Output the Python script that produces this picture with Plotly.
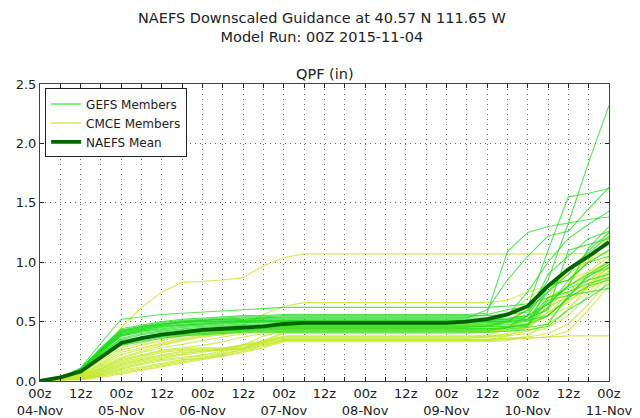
import plotly.graph_objects as go

# forecast hour (6-hourly), 0 = 00z 04-Nov
hours = [0, 6, 12, 18, 24, 30, 36, 42, 48, 54, 60, 66, 72, 78, 84, 90, 96, 102, 108, 114,
         120, 126, 132, 138, 144, 150, 156, 162, 168]

tick_hours = hours
tick_labels = ["00z<br>04-Nov", "", "12z", "", "00z<br>05-Nov", "", "12z", "", "00z<br>06-Nov", "",
               "12z", "", "00z<br>07-Nov", "", "12z", "", "00z<br>08-Nov", "", "12z", "",
               "00z<br>09-Nov", "", "12z", "", "00z<br>10-Nov", "", "12z", "", "00z<br>11-Nov"]

gefs_members = [
    [0, 0.03, 0.11, 0.32, 0.52, 0.54, 0.56, 0.57, 0.58, 0.59, 0.60, 0.61, 0.62, 0.62, 0.62, 0.62, 0.62, 0.62, 0.62, 0.62, 0.62, 0.62, 0.62, 0.63, 0.65, 0.70, 0.75, 0.82, 0.87],
    [0, 0.03, 0.10, 0.28, 0.44, 0.47, 0.50, 0.52, 0.53, 0.54, 0.55, 0.55, 0.56, 0.56, 0.56, 0.56, 0.56, 0.56, 0.56, 0.56, 0.56, 0.56, 0.57, 1.09, 1.25, 1.30, 1.33, 1.36, 1.38],
    [0, 0.03, 0.10, 0.27, 0.43, 0.46, 0.48, 0.50, 0.51, 0.52, 0.52, 0.53, 0.53, 0.53, 0.53, 0.53, 0.53, 0.53, 0.53, 0.53, 0.53, 0.53, 0.60, 0.85, 1.05, 1.22, 1.26, 1.45, 1.63],
    [0, 0.03, 0.10, 0.27, 0.42, 0.46, 0.49, 0.51, 0.52, 0.53, 0.54, 0.54, 0.55, 0.55, 0.55, 0.55, 0.55, 0.55, 0.55, 0.55, 0.55, 0.55, 0.55, 0.56, 0.58, 0.85, 1.33, 1.84, 2.32],
    [0, 0.03, 0.10, 0.27, 0.42, 0.45, 0.48, 0.50, 0.51, 0.52, 0.53, 0.53, 0.54, 0.54, 0.54, 0.54, 0.54, 0.54, 0.54, 0.54, 0.54, 0.54, 0.56, 0.60, 0.62, 1.10, 1.55, 1.58, 1.62],
    [0, 0.03, 0.10, 0.26, 0.41, 0.45, 0.48, 0.50, 0.51, 0.52, 0.52, 0.53, 0.53, 0.53, 0.53, 0.53, 0.53, 0.53, 0.53, 0.53, 0.53, 0.53, 0.53, 0.55, 0.75, 1.00, 1.20, 1.32, 1.43],
    [0, 0.03, 0.10, 0.26, 0.41, 0.44, 0.47, 0.49, 0.50, 0.51, 0.51, 0.52, 0.52, 0.52, 0.52, 0.52, 0.52, 0.52, 0.52, 0.52, 0.52, 0.52, 0.52, 0.53, 0.55, 0.90, 1.05, 1.20, 1.26],
    [0, 0.03, 0.10, 0.26, 0.40, 0.44, 0.47, 0.49, 0.50, 0.50, 0.51, 0.51, 0.51, 0.51, 0.51, 0.51, 0.51, 0.51, 0.51, 0.51, 0.51, 0.51, 0.51, 0.52, 0.53, 0.60, 1.10, 1.15, 1.20],
    [0, 0.03, 0.09, 0.25, 0.40, 0.43, 0.46, 0.48, 0.49, 0.50, 0.50, 0.51, 0.51, 0.51, 0.51, 0.51, 0.51, 0.51, 0.51, 0.51, 0.51, 0.51, 0.51, 0.52, 0.55, 0.80, 0.85, 1.00, 1.10],
    [0, 0.03, 0.09, 0.25, 0.39, 0.43, 0.46, 0.47, 0.48, 0.49, 0.50, 0.50, 0.50, 0.50, 0.50, 0.50, 0.50, 0.50, 0.50, 0.50, 0.50, 0.50, 0.50, 0.51, 0.52, 0.75, 0.95, 1.05, 1.15],
    [0, 0.03, 0.09, 0.25, 0.39, 0.42, 0.45, 0.47, 0.48, 0.49, 0.49, 0.50, 0.50, 0.50, 0.50, 0.50, 0.50, 0.50, 0.50, 0.50, 0.50, 0.50, 0.50, 0.50, 0.51, 0.55, 0.70, 0.90, 1.00],
    [0, 0.03, 0.09, 0.24, 0.38, 0.42, 0.44, 0.46, 0.47, 0.48, 0.49, 0.49, 0.49, 0.49, 0.49, 0.49, 0.49, 0.49, 0.49, 0.49, 0.49, 0.49, 0.49, 0.50, 0.52, 0.65, 0.80, 0.90, 0.95],
    [0, 0.03, 0.09, 0.24, 0.38, 0.41, 0.43, 0.45, 0.46, 0.47, 0.48, 0.48, 0.48, 0.48, 0.48, 0.48, 0.48, 0.48, 0.48, 0.48, 0.48, 0.48, 0.48, 0.49, 0.50, 0.70, 0.78, 0.85, 0.90],
    [0, 0.03, 0.09, 0.23, 0.36, 0.40, 0.42, 0.44, 0.45, 0.46, 0.47, 0.47, 0.47, 0.47, 0.47, 0.47, 0.47, 0.47, 0.47, 0.47, 0.47, 0.47, 0.47, 0.48, 0.48, 0.55, 0.70, 0.80, 0.85],
    [0, 0.03, 0.09, 0.23, 0.35, 0.39, 0.41, 0.43, 0.44, 0.45, 0.46, 0.46, 0.46, 0.46, 0.46, 0.46, 0.46, 0.46, 0.46, 0.46, 0.46, 0.46, 0.46, 0.46, 0.47, 0.68, 0.72, 0.75, 0.78],
    [0, 0.03, 0.09, 0.22, 0.34, 0.37, 0.40, 0.42, 0.43, 0.44, 0.45, 0.45, 0.45, 0.45, 0.45, 0.45, 0.45, 0.45, 0.45, 0.45, 0.45, 0.45, 0.46, 0.50, 0.60, 0.75, 0.90, 1.10, 1.25],
    [0, 0.03, 0.08, 0.21, 0.33, 0.36, 0.39, 0.41, 0.42, 0.43, 0.44, 0.44, 0.44, 0.44, 0.44, 0.44, 0.44, 0.44, 0.44, 0.44, 0.44, 0.44, 0.44, 0.45, 0.46, 0.80, 0.95, 1.08, 1.22],
    [0, 0.03, 0.08, 0.21, 0.33, 0.36, 0.39, 0.41, 0.42, 0.43, 0.43, 0.44, 0.44, 0.44, 0.44, 0.44, 0.44, 0.44, 0.44, 0.44, 0.44, 0.44, 0.44, 0.45, 0.48, 0.62, 0.85, 1.00, 1.05],
    [0, 0.03, 0.08, 0.20, 0.32, 0.35, 0.38, 0.40, 0.41, 0.42, 0.43, 0.43, 0.43, 0.43, 0.43, 0.43, 0.43, 0.43, 0.43, 0.43, 0.43, 0.43, 0.43, 0.44, 0.45, 0.48, 0.72, 0.88, 0.98],
    [0, 0.03, 0.08, 0.20, 0.31, 0.34, 0.37, 0.39, 0.40, 0.41, 0.42, 0.42, 0.42, 0.42, 0.42, 0.42, 0.42, 0.42, 0.42, 0.42, 0.42, 0.42, 0.42, 0.45, 0.55, 0.65, 0.80, 1.12, 1.30],
    [0, 0.03, 0.08, 0.19, 0.30, 0.33, 0.36, 0.38, 0.39, 0.40, 0.41, 0.41, 0.41, 0.41, 0.41, 0.41, 0.41, 0.41, 0.41, 0.41, 0.41, 0.41, 0.41, 0.42, 0.43, 0.46, 0.60, 0.70, 0.82],
]

cmce_members = [
    [0, 0.02, 0.08, 0.25, 0.45, 0.62, 0.75, 0.83, 0.84, 0.85, 0.87, 0.97, 1.04, 1.07, 1.07, 1.07, 1.07, 1.07, 1.07, 1.07, 1.07, 1.07, 1.07, 1.07, 1.07, 1.07, 1.07, 1.07, 1.07],
    [0, 0.02, 0.06, 0.18, 0.30, 0.35, 0.38, 0.42, 0.44, 0.45, 0.47, 0.56, 0.63, 0.66, 0.66, 0.66, 0.66, 0.66, 0.66, 0.66, 0.66, 0.66, 0.66, 0.68, 0.75, 0.80, 0.85, 0.92, 1.00],
    [0, 0.02, 0.06, 0.17, 0.28, 0.32, 0.36, 0.39, 0.41, 0.43, 0.45, 0.47, 0.48, 0.48, 0.48, 0.48, 0.48, 0.48, 0.48, 0.48, 0.48, 0.48, 0.49, 0.55, 0.70, 0.80, 0.85, 1.05, 1.25],
    [0, 0.02, 0.05, 0.15, 0.26, 0.30, 0.34, 0.38, 0.40, 0.42, 0.44, 0.46, 0.47, 0.47, 0.47, 0.47, 0.47, 0.47, 0.47, 0.47, 0.47, 0.47, 0.48, 0.50, 0.62, 0.78, 0.90, 1.00, 1.22],
    [0, 0.02, 0.05, 0.14, 0.24, 0.28, 0.32, 0.36, 0.39, 0.41, 0.43, 0.45, 0.46, 0.46, 0.46, 0.46, 0.46, 0.46, 0.46, 0.46, 0.46, 0.46, 0.47, 0.50, 0.55, 0.60, 0.82, 1.02, 1.20],
    [0, 0.02, 0.05, 0.13, 0.22, 0.27, 0.31, 0.35, 0.38, 0.40, 0.42, 0.44, 0.46, 0.46, 0.46, 0.46, 0.46, 0.46, 0.46, 0.46, 0.46, 0.46, 0.46, 0.47, 0.52, 0.70, 0.95, 1.00, 1.10],
    [0, 0.02, 0.04, 0.12, 0.20, 0.25, 0.30, 0.34, 0.37, 0.39, 0.41, 0.43, 0.45, 0.45, 0.45, 0.45, 0.45, 0.45, 0.45, 0.45, 0.45, 0.45, 0.45, 0.46, 0.48, 0.68, 0.80, 0.92, 1.05],
    [0, 0.02, 0.04, 0.11, 0.19, 0.24, 0.28, 0.31, 0.34, 0.37, 0.40, 0.42, 0.44, 0.44, 0.44, 0.44, 0.44, 0.44, 0.44, 0.44, 0.44, 0.44, 0.44, 0.45, 0.47, 0.55, 0.75, 0.90, 1.02],
    [0, 0.02, 0.04, 0.10, 0.18, 0.22, 0.26, 0.28, 0.30, 0.33, 0.37, 0.40, 0.43, 0.43, 0.43, 0.43, 0.43, 0.43, 0.43, 0.43, 0.43, 0.43, 0.44, 0.50, 0.60, 0.70, 0.80, 0.88, 1.00],
    [0, 0.02, 0.04, 0.10, 0.17, 0.21, 0.25, 0.27, 0.28, 0.28, 0.30, 0.38, 0.42, 0.42, 0.42, 0.42, 0.42, 0.42, 0.42, 0.42, 0.42, 0.42, 0.42, 0.43, 0.45, 0.62, 0.72, 0.85, 0.98],
    [0, 0.02, 0.03, 0.09, 0.16, 0.20, 0.24, 0.26, 0.27, 0.27, 0.28, 0.34, 0.41, 0.41, 0.41, 0.41, 0.41, 0.41, 0.41, 0.41, 0.41, 0.41, 0.41, 0.42, 0.44, 0.58, 0.66, 0.80, 0.96],
    [0, 0.01, 0.03, 0.08, 0.15, 0.19, 0.22, 0.25, 0.26, 0.26, 0.27, 0.33, 0.40, 0.40, 0.40, 0.40, 0.40, 0.40, 0.40, 0.40, 0.40, 0.40, 0.41, 0.45, 0.55, 0.65, 0.75, 0.85, 0.95],
    [0, 0.01, 0.03, 0.08, 0.14, 0.18, 0.21, 0.24, 0.25, 0.26, 0.28, 0.32, 0.38, 0.38, 0.38, 0.38, 0.38, 0.38, 0.38, 0.38, 0.38, 0.38, 0.38, 0.39, 0.42, 0.48, 0.60, 0.80, 0.93],
    [0, 0.01, 0.03, 0.07, 0.13, 0.17, 0.20, 0.23, 0.25, 0.27, 0.30, 0.33, 0.37, 0.37, 0.37, 0.37, 0.37, 0.37, 0.37, 0.37, 0.37, 0.37, 0.38, 0.45, 0.52, 0.62, 0.70, 0.80, 0.90],
    [0, 0.01, 0.02, 0.07, 0.12, 0.16, 0.19, 0.22, 0.24, 0.27, 0.31, 0.34, 0.37, 0.37, 0.37, 0.37, 0.37, 0.37, 0.37, 0.37, 0.37, 0.37, 0.37, 0.38, 0.40, 0.45, 0.55, 0.72, 0.88],
    [0, 0.01, 0.02, 0.06, 0.11, 0.15, 0.18, 0.20, 0.22, 0.25, 0.30, 0.33, 0.36, 0.36, 0.36, 0.36, 0.36, 0.36, 0.36, 0.36, 0.36, 0.36, 0.37, 0.40, 0.48, 0.58, 0.68, 0.78, 0.86],
    [0, 0.01, 0.02, 0.05, 0.10, 0.14, 0.17, 0.19, 0.21, 0.24, 0.28, 0.32, 0.35, 0.35, 0.35, 0.35, 0.35, 0.35, 0.35, 0.35, 0.35, 0.35, 0.35, 0.36, 0.37, 0.40, 0.48, 0.65, 0.85],
    [0, 0.01, 0.02, 0.05, 0.09, 0.12, 0.15, 0.18, 0.19, 0.22, 0.27, 0.31, 0.35, 0.35, 0.35, 0.35, 0.35, 0.35, 0.35, 0.35, 0.35, 0.35, 0.35, 0.36, 0.36, 0.37, 0.42, 0.60, 0.80],
    [0, 0.01, 0.02, 0.04, 0.08, 0.11, 0.14, 0.17, 0.20, 0.23, 0.26, 0.30, 0.34, 0.34, 0.34, 0.34, 0.34, 0.34, 0.34, 0.34, 0.34, 0.34, 0.34, 0.35, 0.36, 0.37, 0.38, 0.38, 0.38],
    [0, 0.01, 0.01, 0.04, 0.07, 0.10, 0.13, 0.16, 0.19, 0.21, 0.25, 0.29, 0.34, 0.34, 0.34, 0.34, 0.34, 0.34, 0.34, 0.34, 0.34, 0.34, 0.34, 0.38, 0.46, 0.55, 0.62, 0.75, 0.92],
    [0, 0.01, 0.01, 0.03, 0.06, 0.09, 0.12, 0.15, 0.18, 0.21, 0.24, 0.28, 0.33, 0.33, 0.33, 0.33, 0.33, 0.33, 0.33, 0.33, 0.33, 0.33, 0.33, 0.34, 0.38, 0.50, 0.70, 0.82, 0.96],
]

naefs_mean = [0, 0.03, 0.08, 0.20, 0.32, 0.36, 0.39, 0.41, 0.43, 0.44, 0.45, 0.46, 0.48, 0.49, 0.49, 0.49, 0.49, 0.49, 0.49, 0.49, 0.49, 0.50, 0.52, 0.56, 0.63, 0.80, 0.94, 1.05, 1.17]

GEFS_COLOR = "rgba(30,220,30,0.75)"
CMCE_COLOR = "rgba(195,232,40,0.8)"
MEAN_COLOR = "#006400"

fig = go.Figure()
for vals in cmce_members:
    fig.add_trace(go.Scatter(x=hours, y=vals, mode="lines", line=dict(color=CMCE_COLOR, width=1.1),
                             name="CMCE Members", legendgroup="cmce", showlegend=False, hoverinfo="skip"))
for vals in gefs_members:
    fig.add_trace(go.Scatter(x=hours, y=vals, mode="lines", line=dict(color=GEFS_COLOR, width=1.1),
                             name="GEFS Members", legendgroup="gefs", showlegend=False, hoverinfo="skip"))
fig.add_trace(go.Scatter(x=hours, y=naefs_mean, mode="lines", line=dict(color=MEAN_COLOR, width=3.8),
                         name="NAEFS Mean", showlegend=False))

# legend entries (order as in reference)
fig.add_trace(go.Scatter(x=[None], y=[None], mode="lines", line=dict(color="rgba(60,240,60,0.9)", width=1.5),
                         name="GEFS Members", legendgroup="gefs"))
fig.add_trace(go.Scatter(x=[None], y=[None], mode="lines", line=dict(color="rgba(200,235,80,0.9)", width=1.5),
                         name="CMCE Members", legendgroup="cmce"))
fig.add_trace(go.Scatter(x=[None], y=[None], mode="lines", line=dict(color=MEAN_COLOR, width=3.8),
                         name="NAEFS Mean"))

font_family = "DejaVu Sans"
fig.update_layout(
    width=640, height=418,
    margin=dict(l=40, r=31, t=84, b=37, autoexpand=False),
    paper_bgcolor="white", plot_bgcolor="white",
    font=dict(family=font_family, size=12, color="#222"),
    showlegend=True,
    legend=dict(x=0.009, y=0.985, xanchor="left", yanchor="top",
                bgcolor="white", bordercolor="#222", borderwidth=1,
                font=dict(family=font_family, size=12, color="#222"),
                tracegroupgap=0, itemwidth=30),
    annotations=[
        dict(text="NAEFS Downscaled Guidance at 40.57 N 111.65 W<br>Model Run: 00Z 2015-11-04",
             xref="paper", yref="paper", x=0.496, y=1.0, yshift=76, xanchor="center", yanchor="top",
             showarrow=False, font=dict(family=font_family, size=14.5, color="#222")),
        dict(text="QPF (in)", xref="paper", yref="paper", x=0.5, y=1.0, yshift=0,
             xanchor="center", yanchor="bottom", showarrow=False,
             font=dict(family=font_family, size=14.5, color="#222")),
    ],
)
grid_dash = "1px,4px"
fig.update_xaxes(range=[0, 168], tickmode="array", tickvals=tick_hours, ticktext=tick_labels,
                 ticks="inside", ticklen=4, tickcolor="#222", showline=True, linecolor="#444", linewidth=1,
                 mirror="ticks", showgrid=True, gridcolor="rgba(0,0,0,0.6)", griddash=grid_dash, gridwidth=1,
                 zeroline=False, automargin=False,
                 tickfont=dict(family=font_family, size=13, color="#222"), tickangle=0)
fig.update_yaxes(range=[0, 2.5], tickmode="array", tickvals=[0, 0.5, 1.0, 1.5, 2.0, 2.5],
                 ticktext=["0.0", "0.5", "1.0", "1.5", "2.0", "2.5"],
                 ticks="inside", ticklen=4, tickcolor="#222", showline=True, linecolor="#444", linewidth=1,
                 mirror="ticks", showgrid=True, gridcolor="rgba(0,0,0,0.6)", griddash=grid_dash, gridwidth=1,
                 zeroline=False, automargin=False,
                 tickfont=dict(family=font_family, size=13, color="#222"))

fig.write_html("out.html", config={"displayModeBar": False})

# remove the browser's default page margin so the figure sits at the window origin
with open("out.html", "r", encoding="utf-8") as fh:
    page = fh.read()
page = page.replace("<head>", "<head><style>html,body{margin:0;padding:0;overflow:hidden;}</style>", 1)
with open("out.html", "w", encoding="utf-8") as fh:
    fh.write(page)
